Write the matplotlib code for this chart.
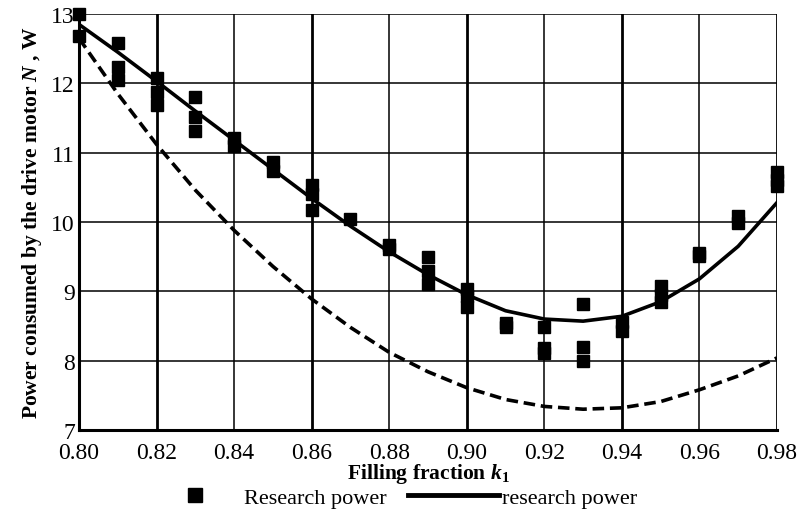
import numpy as np
import matplotlib.pyplot as plt
from matplotlib.lines import Line2D

plt.rcParams['font.family'] = ['Liberation Serif', 'DejaVu Serif']
plt.rcParams['mathtext.fontset'] = 'custom'
plt.rcParams['mathtext.it'] = 'Liberation Serif:italic:bold'
plt.rcParams['mathtext.rm'] = 'Liberation Serif:bold'
plt.rcParams['mathtext.bf'] = 'Liberation Serif:bold'

# measured points (filling fraction, power)
pts_k = [0.80, 0.80,
         0.81, 0.81, 0.81,
         0.82, 0.82, 0.82,
         0.83, 0.83, 0.83,
         0.84, 0.84,
         0.85, 0.85,
         0.86, 0.86, 0.86,
         0.87,
         0.88, 0.88,
         0.89, 0.89, 0.89,
         0.90, 0.90, 0.90,
         0.91, 0.91,
         0.92, 0.92, 0.92,
         0.93, 0.93, 0.93,
         0.94, 0.94,
         0.95, 0.95, 0.95,
         0.96, 0.96,
         0.97, 0.97,
         0.98, 0.98, 0.98]
pts_N = [13.0, 12.68,
         12.58, 12.24, 12.05,
         12.07, 11.88, 11.69,
         11.81, 11.52, 11.31,
         11.21, 11.10,
         10.86, 10.74,
         10.53, 10.40, 10.18,
         10.05,
         9.67, 9.61,
         9.49, 9.29, 9.11,
         9.04, 8.93, 8.78,
         8.55, 8.48,
         8.48, 8.18, 8.11,
         8.82, 8.20, 8.00,
         8.56, 8.43,
         9.08, 8.94, 8.84,
         9.56, 9.51,
         10.08, 9.99,
         10.72, 10.60, 10.52]

# fitted curves read at 0.01 steps
curve_k = [0.80, 0.81, 0.82, 0.83, 0.84, 0.85, 0.86, 0.87, 0.88, 0.89,
           0.90, 0.91, 0.92, 0.93, 0.94, 0.95, 0.96, 0.97, 0.98]
solid_N = [12.85, 12.45, 12.03, 11.60, 11.18, 10.76, 10.34, 9.94, 9.57, 9.24,
           8.95, 8.72, 8.60, 8.57, 8.64, 8.85, 9.18, 9.65, 10.28]
dashed_N = [12.65, 11.85, 11.12, 10.46, 9.88, 9.36, 8.89, 8.48, 8.12, 7.84,
            7.61, 7.44, 7.34, 7.30, 7.32, 7.41, 7.58, 7.78, 8.04]

xticks = [0.80, 0.82, 0.84, 0.86, 0.88, 0.90, 0.92, 0.94, 0.96, 0.98]
yticks = [7, 8, 9, 10, 11, 12, 13]

fig = plt.figure(figsize=(7.97, 5.10), dpi=100)
ax = fig.add_axes([0.0991, 0.1549, 0.8758, 0.8157])

ax.plot(curve_k, dashed_N, color='black', lw=2.6, ls=(0, (3.2, 1.6)), zorder=3)
ax.plot(curve_k, solid_N, color='black', lw=2.6, zorder=3)
ax.plot(pts_k, pts_N, ls='none', marker='s', ms=8.3, color='black', zorder=4,
        clip_on=False)

ax.set_xlim(0.80, 0.98)
ax.set_ylim(7, 13)
ax.set_xticks(xticks)
ax.set_xticklabels([f'{v:.2f}' for v in xticks])
ax.set_yticks(yticks)
ax.tick_params(length=0, labelsize=17)
ax.tick_params(axis='x', pad=8.5)
ax.tick_params(axis='y', pad=3)

for i, v in enumerate(xticks):
    lw = 2.0 if i % 2 == 1 else 1.1
    ax.axvline(v, color='black', lw=lw, zorder=1)
for v in yticks:
    ax.axhline(v, color='black', lw=1.1, zorder=1)

for s in ['top', 'right']:
    ax.spines[s].set_visible(False)
ax.spines['left'].set_linewidth(2.2)
ax.spines['bottom'].set_linewidth(2.2)

ax.set_xlabel(r'Filling fraction $k_1$', fontsize=15.5, fontweight='bold', labelpad=-1)
ax.set_ylabel(r'Power consumed by the drive motor $N$ , W', fontsize=15.5,
              fontweight='bold', labelpad=5)

handles = [Line2D([], [], ls='none', marker='s', ms=10, color='black'),
           Line2D([], [], color='black', lw=3.5)]
fig.legend(handles, ['Research power', 'research power'], loc='center',
           bbox_to_anchor=(0.494, 0.022), ncol=2, frameon=False, fontsize=16,
           handlelength=4.1, handletextpad=0.15, columnspacing=0.95,
           borderpad=0, borderaxespad=0)

fig.savefig('out.png', dpi=100)
